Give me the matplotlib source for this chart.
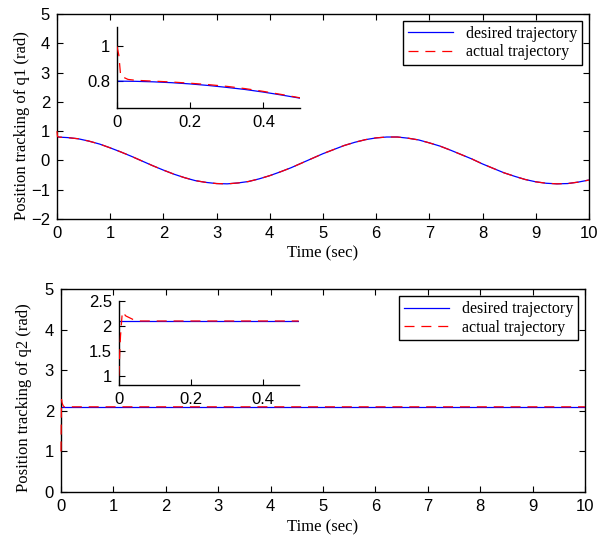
import matplotlib
matplotlib.use('Agg')
import matplotlib.pyplot as plt
from matplotlib.ticker import FormatStrFormatter

# joint 1: desired trajectory sampled every 0.2 s
t1 = [0.0, 0.2, 0.4, 0.6, 0.8, 1.0, 1.2, 1.4, 1.6, 1.8, 2.0, 2.2, 2.4, 2.6, 2.8,
      3.0, 3.2, 3.4, 3.6, 3.8, 4.0, 4.2, 4.4, 4.6, 4.8, 5.0, 5.2, 5.4, 5.6, 5.8,
      6.0, 6.2, 6.4, 6.6, 6.8, 7.0, 7.2, 7.4, 7.6, 7.8, 8.0, 8.2, 8.4, 8.6, 8.8,
      9.0, 9.2, 9.4, 9.6, 9.8, 10.0]
q1Desired = [0.80, 0.78, 0.74, 0.66, 0.56, 0.43, 0.29, 0.14, -0.02, -0.18, -0.33,
             -0.47, -0.59, -0.69, -0.75, -0.79, -0.80, -0.77, -0.72, -0.63, -0.52,
             -0.39, -0.25, -0.09, 0.07, 0.23, 0.37, 0.51, 0.62, 0.71, 0.77, 0.80,
             0.80, 0.76, 0.70, 0.60, 0.49, 0.35, 0.20, 0.05, -0.12, -0.27, -0.42,
             -0.54, -0.65, -0.73, -0.78, -0.80, -0.79, -0.74, -0.67]
t1Actual = [0.0, 0.01, 0.03] + t1[1:]
q1Actual = [1.00, 0.82, 0.80] + q1Desired[1:]

# joint 1: first half second
t1Zoom = [0.0, 0.05, 0.1, 0.15, 0.2, 0.25, 0.3, 0.35, 0.4, 0.45, 0.5]
q1DesiredZoom = [0.800, 0.799, 0.796, 0.791, 0.784, 0.775, 0.764, 0.752, 0.737, 0.720, 0.702]
t1ActualZoom = [0.0, 0.005, 0.01, 0.03, 0.05, 0.1, 0.15, 0.2, 0.25, 0.3, 0.35, 0.4, 0.45, 0.5]
q1ActualZoom = [1.00, 0.95, 0.83, 0.81, 0.805, 0.800, 0.795, 0.788, 0.780, 0.770,
                0.757, 0.741, 0.723, 0.704]

# joint 2: constant set point
t2 = [0.0, 10.0]
q2Desired = [2.1, 2.1]
t2Actual = [0.0, 0.005, 0.01, 0.02, 0.04, 0.06, 0.1, 10.0]
q2Actual = [1.00, 1.80, 2.28, 2.20, 2.13, 2.10, 2.10, 2.10]
t2Zoom = [0.0, 0.5]
q2DesiredZoom = [2.1, 2.1]
t2ActualZoom = [0.0, 0.005, 0.01, 0.02, 0.04, 0.06, 0.1, 0.5]
q2ActualZoom = [1.00, 1.80, 2.28, 2.20, 2.13, 2.10, 2.10, 2.10]

tickFont = 'Liberation Sans'
textFont = 'Liberation Serif'
blue = '#0000ff'
red = '#ff0000'
dash = (0, (8, 5.5))

fig = plt.figure(figsize=(6.10, 5.35), dpi=100)


def styleMain(ax, ylim, yticks, ylabel, ylabelPos, xlabelY):
	ax.set_xlim(0, 10)
	ax.set_ylim(*ylim)
	ax.set_xticks(range(0, 11))
	ax.set_yticks(yticks)
	ax.tick_params(direction='in', top=True, right=True, length=4, width=0.8,
				   labelsize=12, pad=5)
	for lbl in ax.get_xticklabels() + ax.get_yticklabels():
		lbl.set_fontfamily(tickFont)
	for s in ax.spines.values():
		s.set_linewidth(1.0)
	ax.set_xlabel('Time (sec)', fontfamily=textFont, fontsize=12)
	ax.set_ylabel(ylabel, fontfamily=textFont, fontsize=12)
	ax.yaxis.set_label_coords(*ylabelPos)
	ax.xaxis.set_label_coords(0.5, xlabelY)
	leg = ax.legend(loc='upper right', prop={'family': textFont, 'size': 11.5},
					fancybox=False, edgecolor='black', framealpha=1,
					handlelength=2.8, borderpad=0.3, labelspacing=0.15,
					borderaxespad=0.45)
	leg.get_frame().set_linewidth(1.0)


def styleInset(ax, ylim, yticks):
	ax.set_xlim(0, 0.5)
	ax.set_ylim(*ylim)
	ax.set_xticks([0, 0.2, 0.4])
	ax.set_yticks(yticks)
	ax.xaxis.set_major_formatter(FormatStrFormatter('%g'))
	ax.yaxis.set_major_formatter(FormatStrFormatter('%g'))
	ax.spines['top'].set_visible(False)
	ax.spines['right'].set_visible(False)
	for s in ax.spines.values():
		s.set_linewidth(1.0)
	ax.tick_params(direction='in', length=4, width=0.8, labelsize=12, pad=5)
	for lbl in ax.get_xticklabels() + ax.get_yticklabels():
		lbl.set_fontfamily(tickFont)
	ax.patch.set_alpha(0)


# top: joint 1
ax1 = fig.add_axes([0.0934, 0.5907, 0.872, 0.383])
ax1.plot(t1, q1Desired, color=blue, lw=0.9, label='desired trajectory')
ax1.plot(t1Actual, q1Actual, color=red, lw=0.9, ls=dash, label='actual trajectory',
		 zorder=3, clip_on=False)
styleMain(ax1, (-2, 5), range(-2, 6), 'Position tracking of q1 (rad)', (-0.051, 0.454), -0.127)

in1 = fig.add_axes([0.1918, 0.798, 0.300, 0.151])
in1.plot(t1Zoom, q1DesiredZoom, color=blue, lw=0.9)
in1.plot(t1ActualZoom, q1ActualZoom, color=red, lw=0.9, ls=dash, zorder=3)
styleInset(in1, (0.645, 1.11), [0.8, 1.0])

# bottom: joint 2
ax2 = fig.add_axes([0.100, 0.0804, 0.859, 0.379])
ax2.plot(t2, q2Desired, color=blue, lw=0.9, label='desired trajectory')
ax2.plot(t2Actual, q2Actual, color=red, lw=0.9, ls=dash, label='actual trajectory',
		 zorder=3, clip_on=False)
styleMain(ax2, (0, 5), range(0, 6), 'Position tracking of q2 (rad)', (-0.055, 0.463), -0.133)

in2 = fig.add_axes([0.1946, 0.2804, 0.295, 0.157])
in2.plot(t2Zoom, q2DesiredZoom, color=blue, lw=0.9)
in2.plot(t2ActualZoom, q2ActualZoom, color=red, lw=0.9, ls=dash, zorder=3)
styleInset(in2, (0.82, 2.5), [1, 1.5, 2, 2.5])

fig.savefig('out.png', dpi=100)
